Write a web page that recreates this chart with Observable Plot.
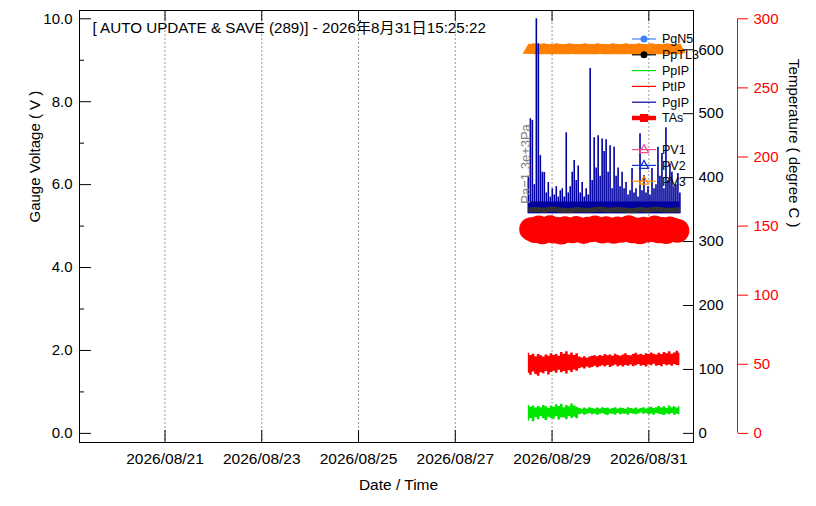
<!DOCTYPE html>
<html><head><meta charset="utf-8">
<script src="https://cdn.jsdelivr.net/npm/d3@7"></script>
<script src="https://cdn.jsdelivr.net/npm/@observablehq/plot@0.6"></script>
<style>body{margin:0;background:#fff;}</style>
</head><body><div id="chart"></div>
<script>
// ---- text ----
const title = "[ AUTO UPDATE & SAVE (289)] - 2026年8月31日15:25:22";
const xLabel = "Date / Time";
const yLabel = "Gauge Voltage ( V )";
const y2Label = "Temperature ( degree C )";
const annotation = "Pa=1.3e+3Pa";

// ---- axes ----
const dateTicks = ["2026-08-21","2026-08-23","2026-08-25","2026-08-27","2026-08-29","2026-08-31"];
const xDomain = ["2026-08-19T05:35Z","2026-08-31T22:10Z"];
const yDomain = [-0.22, 10.2];
const voltMajor = [0,2,4,6,8,10];
const voltMinor = [1,3,5,7,9];
const innerTicks = [0,100,200,300,400,500,600];
const innerPerVolt = 64.84;
const tempTicks = [0,50,100,150,200,250,300];
const tempPerVolt = 30;

// ---- series ----
const seriesStart = "2026-08-28T12:15Z", seriesEnd = "2026-08-31T15:25Z";
const tasStart = "2026-08-28T13:40Z", tasEnd = "2026-08-31T14:10Z";

const ptipHi = [1.93,1.88,1.91,1.85,1.90,1.87,1.84,1.89,1.86,1.92,1.88,1.90,1.86,1.95,1.91,1.97,1.89,1.94,1.88,1.92,
1.84,1.82,1.85,1.81,1.84,1.86,1.87,1.85,1.88,1.86,1.90,1.87,1.89,1.86,1.91,1.88,1.86,1.89,1.92,1.88,
1.87,1.90,1.93,1.89,1.91,1.88,1.92,1.90,1.94,1.91,1.89,1.93,1.90,1.95,1.92,1.97,1.91,1.94,1.98,1.93];
const ptipLo = [1.45,1.40,1.48,1.42,1.38,1.46,1.44,1.49,1.41,1.47,1.50,1.45,1.52,1.46,1.49,1.43,1.51,1.47,1.53,1.50,
1.56,1.58,1.55,1.60,1.57,1.59,1.62,1.58,1.61,1.63,1.60,1.64,1.59,1.62,1.65,1.61,1.63,1.60,1.64,1.62,
1.65,1.61,1.63,1.66,1.62,1.64,1.60,1.65,1.63,1.67,1.62,1.64,1.61,1.66,1.63,1.65,1.62,1.66,1.64,1.63];
const ppipHi = [0.68,0.63,0.66,0.61,0.65,0.62,0.67,0.64,0.60,0.66,0.63,0.69,0.65,0.70,0.62,0.67,0.64,0.71,0.66,0.63,
0.60,0.58,0.61,0.59,0.62,0.60,0.58,0.61,0.59,0.62,0.60,0.61,0.58,0.60,0.62,0.59,0.61,0.60,0.58,0.62,
0.60,0.59,0.61,0.58,0.60,0.62,0.59,0.61,0.63,0.60,0.62,0.65,0.61,0.64,0.60,0.66,0.62,0.64,0.61,0.65];
const ppipLo = [0.30,0.36,0.28,0.38,0.33,0.40,0.35,0.31,0.39,0.36,0.34,0.40,0.32,0.38,0.37,0.33,0.41,0.36,0.39,0.35,
0.45,0.47,0.44,0.46,0.48,0.45,0.47,0.44,0.46,0.48,0.45,0.43,0.47,0.46,0.44,0.48,0.45,0.47,0.46,0.44,
0.48,0.46,0.45,0.47,0.49,0.46,0.48,0.45,0.47,0.44,0.48,0.46,0.45,0.43,0.47,0.45,0.48,0.44,0.46,0.45];
const pgipPeak = [6.2,7.59,7.55,6.0,10.0,9.4,6.7,6.3,6.29,5.8,6.05,5.7,5.9,5.75,5.95,5.7,5.85,5.9,5.7,7.25,
5.8,5.95,6.3,6.58,6.1,6.45,5.8,6.05,5.7,5.9,5.75,8.8,6.1,7.13,6.4,7.18,6.2,7.1,6.8,7.08,
6.3,6.94,5.9,6.9,6.2,6.4,5.95,6.3,5.9,6.05,5.75,5.85,6.39,5.8,5.9,5.7,7.23,5.85,6.22,5.8,
5.95,5.75,6.39,5.9,6.0,6.9,6.2,6.75,5.9,7.37,6.1,6.5,6.3,5.95,6.0,6.27,5.8];
const pgipBase = [5.30, 5.58];
const pptl3 = [5.39,5.40,5.38,5.41,5.39,5.37,5.40,5.38,5.39,5.41,5.38,5.40,5.39,5.37,5.40,5.38,5.41,5.39,5.38,5.40];
const tas = [147.8,146.5,148.9,145.6,147.2,149.1,146.0,147.9,145.3,148.4,147.0,146.2,148.7,147.5,145.8,148.1,146.9,149.0,147.3,146.1,
148.5,147.0,145.9,148.2,146.6,147.8,149.2,146.3,147.6,145.5,148.0,146.8,147.4,149.0,146.2,147.9,145.7,148.3,147.1,146.6];
const pv3 = [599,599,600,599,598,599,600,599,599,598,599,600,599,599,598,599,600,599,599,599,
598,599,600,599,599,598,599,600,599,599,599,598,599,600,599,599,598,599,600,599,
599,598,599,600,599,599,598,599,600,599,599,599,598,599,600,599,599,598,599,600];

// ---- legend ----
const legendNames = ["PgN5","PpTL3","PpIP","PtIP","PgIP","TAs","PV1","PV2","PV3"];
const legendColors = ["#4080ff","#000000","#00dd00","#ff0000","#0000a0","#ff0000","#f0508c","#1030d0","#ff8c00"];
const legendMarkers = ["circle","circle",null,null,null,"square","triangle","triangle","triangle"];
const legendSlots = [0,1,2,3,4,5,7,8,9];

// ---- build ----
const D = s => new Date(s);
const spread = (n, a, b) => d3.range(n).map(i => new Date(+D(a) + (D(b) - D(a)) * i / (n - 1)));
const t60 = spread(60, seriesStart, seriesEnd);
const t77 = spread(pgipPeak.length, seriesStart, seriesEnd);
const tPv3 = spread(pv3.length, seriesStart, seriesEnd);
const tTl = spread(pptl3.length, seriesStart, seriesEnd);
const tTas = spread(tas.length, tasStart, tasEnd);

const ptip = ptipHi.map((hi, i) => ({time: t60[i], hi, lo: ptipLo[i]}));
const ppip = ppipHi.map((hi, i) => ({time: t60[i], hi, lo: ppipLo[i]}));
const pgip = pgipPeak.map((v, i) => ({time: t77[i], v}));
const tl = pptl3.map((v, i) => ({time: tTl[i], v}));
const tasD = tas.map((v, i) => ({time: tTas[i], v: v / tempPerVolt}));
const pv3D = pv3.map((v, i) => ({time: tPv3[i], v: v / innerPerVolt}));
const xEnd = D(xDomain[1]);
const font = "'Liberation Sans', Arial, 'Noto Sans CJK JP', sans-serif";

const plot = Plot.plot({
  width: 816, height: 506,
  marginLeft: 79, marginRight: 123, marginTop: 10, marginBottom: 64,
  x: {type: "utc", domain: xDomain.map(D)},
  y: {domain: yDomain},
  style: {fontFamily: font, fontSize: "15px", background: "#fff", color: "#000", overflow: "visible"},
  marks: [
    Plot.ruleX(dateTicks.map(D), {stroke: "#999", strokeDasharray: "2,2"}),
    // PV3 orange band
    Plot.line(pv3D, {x: "time", y: "v", dy: -1.7, stroke: "#ff8000", strokeWidth: 9.5, strokeLinecap: "butt"}),
    Plot.dot(pv3D, {x: "time", y: "v", symbol: "triangle", r: 4.3, fill: "#ff8000", stroke: null}),
    // PgIP blue
    Plot.areaY([{time: D(seriesStart)}, {time: D(seriesEnd)}], {x: "time", y1: pgipBase[0], y2: pgipBase[1], fill: "#0000a0"}),
    Plot.ruleX(pgip, {x: "time", y1: pgipBase[0], y2: "v", stroke: "#0000a0", strokeWidth: 1.6}),
    // PpTL3 dark band
    Plot.line(tl, {x: "time", y: "v", stroke: "#333", strokeWidth: 5, strokeLinecap: "butt"}),
    // TAs
    Plot.line(tasD, {x: "time", y: "v", stroke: "#ff0000", strokeWidth: 10}),
    Plot.dot(tasD, {x: "time", y: "v", r: 12, fill: "#ff0000"}),
    // PtIP, PpIP
    Plot.areaY(ptip, {x: "time", y1: "lo", y2: "hi", fill: "#ff0000", curve: "step"}),
    Plot.areaY(ppip, {x: "time", y1: "lo", y2: "hi", fill: "#00e600", curve: "step"}),
    // annotation
    Plot.text([annotation], {x: D(seriesStart), y: 6.5, text: d => d, rotate: -90, dx: -3, fill: "#808080", fontSize: 13}),
    Plot.frame({stroke: "#000"}),
    // axes
    Plot.axisY(voltMajor, {anchor: "left", tickSize: -12, tickPadding: 19, tickFormat: d => d.toFixed(1), label: null}),
    Plot.axisY(voltMinor, {anchor: "left", tickSize: -5, fill: "none", label: null}),
    Plot.axisY(innerTicks.map(v => v / innerPerVolt), {anchor: "right", tickSize: -11, tickPadding: 16, tickFormat: d => Math.round(d * innerPerVolt), label: null}),
    Plot.ruleX([xEnd], {y1: 0, y2: tempTicks[tempTicks.length - 1] / tempPerVolt, dx: 44, stroke: "#ff0000"}),
    Plot.axisY(tempTicks.map(v => v / tempPerVolt), {anchor: "right", dx: 44, tickSize: 10, tickPadding: 6, tickFormat: d => Math.round(d * tempPerVolt), stroke: "#ff0000", fill: "#ff0000", label: null}),
    Plot.axisX(dateTicks.map(D), {anchor: "bottom", tickSize: -12, tickPadding: 22, tickFormat: d3.utcFormat("%Y/%m/%d"), label: null, fontSize: 15.5}),
    Plot.axisX(dateTicks.map(D), {anchor: "top", tickSize: -10, fill: "none", label: null}),
    // labels
    Plot.text([title], {frameAnchor: "top-left", text: d => d, dx: 13, dy: 18, lineAnchor: "middle", textAnchor: "start", fontSize: 15.2}),
    Plot.text([yLabel], {frameAnchor: "left", text: d => d, dx: -44, dy: -4, rotate: -90, fontSize: 15}),
    Plot.text([y2Label], {frameAnchor: "right", text: d => d, dx: 100, dy: 1, rotate: 90, fontSize: 15}),
    Plot.text([xLabel], {frameAnchor: "bottom", text: d => d, dx: 12, dy: 47, fontSize: 15.5})
  ]
});
document.getElementById("chart").appendChild(plot);

// legend
const svg = d3.select(plot);
const lg = svg.append("g").attr("font-family", font).attr("font-size", 12.5).attr("text-anchor", "start");
legendNames.forEach((name, i) => {
  const y = 39 + 15.8 * legendSlots[i];
  const c = legendColors[i];
  lg.append("line").attr("x1", 632).attr("x2", 656).attr("y1", y).attr("y2", y)
    .attr("stroke", c).attr("stroke-width", name === "TAs" ? 4.5 : 1.2);
  const m = legendMarkers[i];
  if (m === "circle") lg.append("circle").attr("cx", 644).attr("cy", y).attr("r", 3.5).attr("fill", c);
  if (m === "square") lg.append("rect").attr("x", 640).attr("y", y - 4).attr("width", 8).attr("height", 8).attr("fill", c);
  if (m === "triangle") lg.append("path").attr("d", `M644,${y - 5}L648.5,${y + 3}L639.5,${y + 3}Z`).attr("fill", "none").attr("stroke", c).attr("stroke-width", 1.2);
  lg.append("text").attr("x", 662).attr("y", y).attr("dy", "0.35em").attr("text-anchor", "start").attr("fill", "#000").text(name);
});
</script>
</body></html>
